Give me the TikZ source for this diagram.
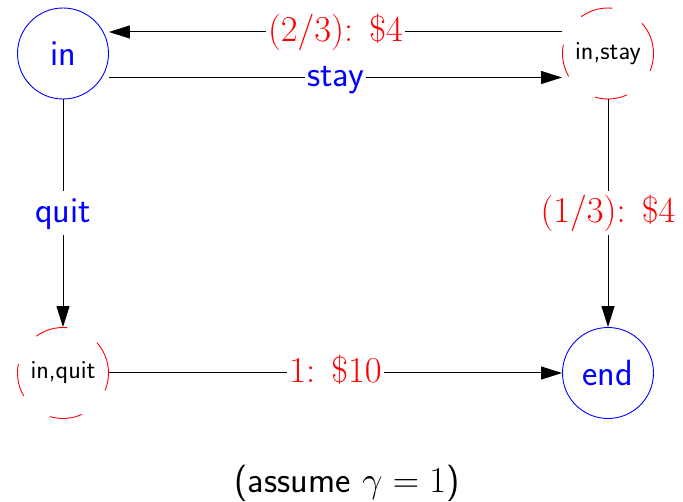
\documentclass[tikz,border=0pt]{standalone}
\usepackage{fix-cm}
\usepackage{fontspec}
\usetikzlibrary{arrows.meta}
\tikzset{
  bigfont/.style={font=\fontsize{36.5}{42}\selectfont\sffamily},
  state/.style={circle, draw=blue, line width=0.9pt, minimum size=91pt, inner sep=0pt, text=blue, bigfont},
  chance/.style={circle, draw=red, line width=0.9pt, dash pattern=on 33pt off 34pt, minimum size=91pt, inner sep=0pt, text=black, font=\fontsize{26}{30}\selectfont\sffamily},
  edge/.style={line width=1pt, draw=black, -{Triangle[length=21pt,width=13pt]}},
  lab/.style={fill=white, inner xsep=2pt, inner ysep=4pt, text height=27.4pt, text depth=9.1pt},
  act/.style={lab, text=blue, bigfont},
  rew/.style={lab, text=red, font=\fontsize{36.5}{42}\selectfont},
}
\begin{document}
\begin{tikzpicture}[x=1pt,y=-1pt]
\useasboundingbox (0,0) rectangle (683,502);
\node[state] (in) at (63,53.5) {in};
\node[chance] (is) at (608,53.5) {in,stay};
\node[chance] (iq) at (63,373) {in,quit};
\node[state] (end) at (608,373) {end};
\draw[edge] ([yshift=21.5pt]is.west) -- node[rew] (l1) {$(2/3)\colon\;\$4$} ([yshift=21.5pt]in.east);
\draw[edge] ([yshift=-24pt]in.east) -- node[act] (l2) {stay} ([yshift=-24pt]is.west);
\draw[edge] (in.south) -- node[act] (l3) {quit} (iq.north);
\draw[edge] (is.south) -- node[rew] (l4) {$(1/3)\colon\;\$4$} (end.north);
\draw[edge] (iq.east) -- node[rew] (l5) {$1\colon\;\$10$} (end.west);
\node[bigfont, anchor=base] (note) at (347,493) {(assume $\gamma=1$)};
\end{tikzpicture}
\end{document}
